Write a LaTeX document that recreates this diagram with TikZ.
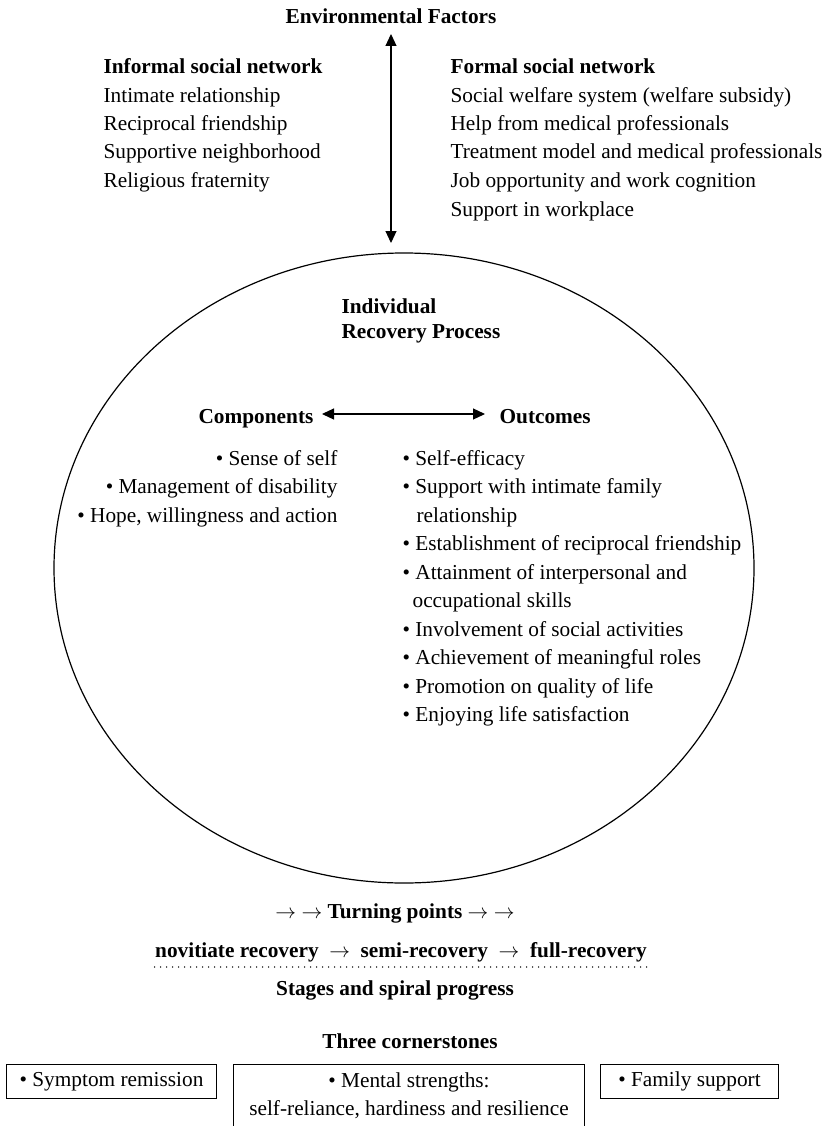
\documentclass[tikz,border=0pt]{standalone}
\usepackage{fontspec}
\setmainfont{Liberation Serif}
\usetikzlibrary{arrows.meta,shapes.geometric}

\begin{document}
\begin{tikzpicture}[x=1pt, y=-1pt, line width=1.2pt,
  every node/.style={inner sep=0pt, font=\fontsize{21.3}{28.4}\selectfont},
  txt/.style={anchor=base west},
  rtxt/.style={anchor=base east},
  hd/.style={anchor=base west, font=\fontsize{21.3}{28.4}\selectfont\bfseries},
  ctr/.style={anchor=base, font=\fontsize{21.3}{28.4}\selectfont\bfseries},
  cbox/.style={draw, line width=1pt, anchor=north west, minimum height=34pt},
  >={Triangle[length=12pt, width=11pt]}]
  \useasboundingbox (0,0) rectangle (823,1126);

  % environmental factors
  \node[ctr] (envfactors) at (391,24) {Environmental Factors};
  \coordinate (envtop) at (391,34);
  \coordinate (envbot) at (391,243);
  \draw[<->] (envtop) -- (envbot);

  \node[hd] (informal) at (103,74) {Informal social network};
  \node[txt] (intimate) at (103,102.5) {Intimate relationship};
  \node[txt] (reciprocal) at (103,131) {Reciprocal friendship};
  \node[txt] (neighbor) at (103,159) {Supportive neighborhood};
  \node[txt] (religious) at (103,187.5) {Religious fraternity};

  \node[hd] (formal) at (450,74) {Formal social network};
  \node[txt] (welfare) at (450,102.5) {Social welfare system (welfare subsidy)};
  \node[txt] (medhelp) at (450,131) {Help from medical professionals};
  \node[txt] (treatment) at (450,159) {Treatment model and medical professionals};
  \node[txt] (job) at (450,187.5) {Job opportunity and work cognition};
  \node[txt] (workplace) at (450,216) {Support in workplace};

  % recovery process
  \node[draw, ellipse, minimum width=700pt, minimum height=630pt] (recovery) at (404,568) {};
  \node[hd] (individual) at (341,313) {Individual};
  \node[hd] (process) at (341,338) {Recovery Process};

  \node[hd] (components) at (198,423) {Components};
  \node[hd] (outcomes) at (499,423) {Outcomes};
  \draw[<->, shorten <=8pt, shorten >=14pt] ([yshift=9pt]components.base east) -- ([yshift=9pt]outcomes.base west);

  \node[rtxt] (self) at (338,465) {• Sense of self};
  \node[rtxt] (disability) at (338,493.5) {• Management of disability};
  \node[rtxt] (hope) at (338,522) {• Hope, willingness and action};

  \node[txt] (efficacy) at (402,465) {• Self-efficacy};
  \node[txt] (family) at (402,493.5) {• Support with intimate family};
  \node[txt] (familyb) at (416,522) {relationship};
  \node[txt] (friendship) at (402,550.5) {• Establishment of reciprocal friendship};
  \node[txt] (skills) at (402,579) {• Attainment of interpersonal and};
  \node[txt] (skillsb) at (412,607.5) {occupational skills};
  \node[txt] (activities) at (402,636) {• Involvement of social activities};
  \node[txt] (roles) at (402,664.5) {• Achievement of meaningful roles};
  \node[txt] (quality) at (402,693) {• Promotion on quality of life};
  \node[txt] (satisfaction) at (402,721) {• Enjoying life satisfaction};

  % stages
  \node[ctr] (turning) at (395,918) {$\rightarrow$ $\rightarrow$ Turning points $\rightarrow$ $\rightarrow$};
  \node[ctr] (stageline) at (401,957) {novitiate recovery\enspace$\rightarrow$\enspace semi-recovery\enspace$\rightarrow$\enspace full-recovery};
  \draw[line width=1.6pt, line cap=round, dash pattern=on 0pt off 6pt] ([yshift=-10pt]stageline.base west) -- ([yshift=-10pt]stageline.base east);
  \node[ctr] (spiral) at (395,995) {Stages and spiral progress};

  % cornerstones
  \node[ctr] (cornerstones) at (410,1048) {Three cornerstones};
  \node[cbox, minimum width=210pt] (symptom) at (6,1064) {• Symptom remission};
  \node[anchor=north, align=center, minimum width=350pt, minimum height=62pt] (strengths) at (409,1064) {• Mental strengths:\\self-reliance, hardiness and resilience};
  \draw[line width=1pt] (strengths.south west) |- (strengths.north east) -- (strengths.south east);
  \node[cbox, minimum width=178pt] (familysup) at (600,1064) {• Family support};
\end{tikzpicture}
\end{document}
